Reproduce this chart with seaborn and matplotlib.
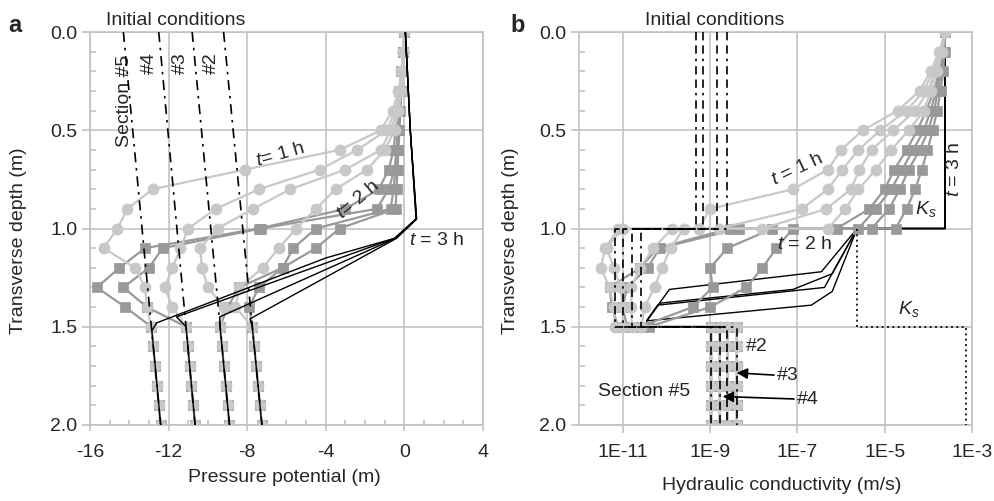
import numpy as np
import pandas as pd
import matplotlib
matplotlib.use("Agg")
import matplotlib.pyplot as plt
import seaborn as sns
from matplotlib.ticker import MultipleLocator, FixedLocator, NullLocator, FormatStrFormatter

sns.set_theme(style="white")
plt.rcParams['font.family'] = ['Liberation Sans', 'DejaVu Sans']
plt.rcParams['axes.unicode_minus'] = False
plt.rcParams['mathtext.fontset'] = 'custom'
plt.rcParams['mathtext.rm'] = 'Liberation Sans'
plt.rcParams['mathtext.it'] = 'Liberation Sans:italic'

# ============================================
# Data
# ============================================

sections = ["#2", "#3", "#4", "#5"]

# --- panel a: pressure potential (m) at depth nodes 0.0 .. 2.0 m
depth_a = [0.0, 0.1, 0.2, 0.3, 0.4, 0.5, 0.6, 0.7, 0.8, 0.9, 1.0,
           1.1, 1.2, 1.3, 1.4, 1.5, 1.6, 1.7, 1.8, 1.9, 2.0]

init_depth = [0.0, 2.0]
init_p_top = [-9.2, -10.8, -12.5, -14.3]
init_p_bot = [-7.25, -8.9, -10.65, -12.4]

# lower layer (1.5 .. 2.0 m), unchanged from initial state
p_low_s2 = [-7.74, -7.64, -7.54, -7.45, -7.35, -7.25]
p_low_s3 = [-9.38, -9.28, -9.19, -9.09, -9.00, -8.90]
p_low_s4 = [-11.11, -11.02, -10.93, -10.84, -10.74, -10.65]
p_low_s5 = [-12.88, -12.78, -12.69, -12.59, -12.50, -12.40]

# 0.0 .. 1.4 m
p_1h_s2 = [0.0, -0.05, -0.1, -0.15, -0.3, -0.5, -1.0, -1.9, -3.5, -4.5, -5.5, -6.4, -7.2, -8.4, -8.6]
p_1h_s3 = [0.0, -0.05, -0.1, -0.2, -0.35, -0.7, -1.2, -3.0, -5.8, -7.7, -9.5, -10.4, -10.3, -10.0, -9.2]
p_1h_s4 = [0.0, -0.05, -0.12, -0.25, -0.45, -0.9, -2.4, -4.3, -7.4, -9.6, -11.0, -11.4, -11.8, -12.2, -11.8]
p_1h_s5 = [0.0, -0.05, -0.15, -0.3, -0.6, -1.2, -3.3, -8.1, -12.8, -14.1, -14.6, -15.3, -13.7, -13.2, -13.1]

p_2h_s2 = [0.0, -0.05, -0.1, -0.15, -0.2, -0.25, -0.3, -0.35, -0.4, -0.45, -3.3, -4.5, -6.2, -7.4, -7.9]
p_2h_s3 = [0.0, -0.05, -0.1, -0.2, -0.25, -0.3, -0.35, -0.45, -0.55, -0.7, -4.5, -5.65, -6.2, -8.4, -9.0]
p_2h_s4 = [0.0, -0.05, -0.1, -0.2, -0.3, -0.35, -0.4, -0.5, -0.8, -1.4, -7.3, -12.3, -13.0, -14.3, -13.1]
p_2h_s5 = [0.0, -0.05, -0.15, -0.25, -0.35, -0.45, -0.55, -0.8, -1.3, -3.0, -7.4, -13.2, -14.5, -15.65, -14.2]

# t = 3 h (no markers)
d_3h_s2 = [0.0, 0.5, 0.955, 1.05, 1.46, 1.5, 2.0]
p_3h_s2 = [0.05, 0.3, 0.6, -0.4, -7.86, -7.74, -7.25]
d_3h_s3 = [0.0, 0.5, 0.95, 1.05, 1.45, 1.5, 2.0]
p_3h_s3 = [0.05, 0.3, 0.6, -0.45, -9.4, -9.38, -8.9]
d_3h_s4 = [0.0, 0.5, 0.95, 1.05, 1.45, 1.5, 2.0]
p_3h_s4 = [0.05, 0.3, 0.62, -0.5, -11.6, -11.11, -10.65]
d_3h_s5 = [0.0, 0.5, 0.95, 1.05, 1.15, 1.48, 1.52, 2.0]
p_3h_s5 = [0.05, 0.3, 0.62, -0.5, -4.0, -12.6, -12.85, -12.4]

# --- panel b: log10 hydraulic conductivity (m/s)
depth_b_up = [0.0, 0.1, 0.2, 0.3, 0.4, 0.5, 0.6, 0.7, 0.8, 0.9, 1.0]
depth_b_mid = [1.0, 1.1, 1.2, 1.3, 1.4, 1.5]
depth_b_low = [1.5, 1.6, 1.7, 1.8, 1.9, 2.0]

k0_up = [-8.62, -8.83, -9.15, -9.31]
k0_mid = [-10.57, -10.79, -11.0, -11.18]
k0_low = [-8.39, -8.6, -8.78, -8.97]

k_1h_up_s2 = [-3.62, -3.68, -3.8, -3.95, -4.1, -4.45, -4.85, -5.2, -5.6, -5.9, -6.3]
k_1h_up_s3 = [-3.62, -3.7, -3.85, -4.0, -4.3, -4.8, -5.3, -5.58, -5.77, -6.34, -7.8]
k_1h_up_s4 = [-3.62, -3.72, -3.9, -4.1, -4.5, -5.1, -5.6, -5.97, -6.3, -6.9, -8.8]
k_1h_up_s5 = [-3.62, -3.75, -3.95, -4.2, -4.7, -5.5, -6.0, -6.3, -7.1, -9.0, -9.25]
k_1h_mid_s2 = [-9.6, -9.9, -10.1, -10.27, -10.5, -10.57]
k_1h_mid_s3 = [-9.86, -10.3, -10.6, -10.8, -10.8, -10.79]
k_1h_mid_s4 = [-11.0, -11.37, -11.2, -11.05, -11.0, -11.0]
k_1h_mid_s5 = [-11.1, -11.4, -11.5, -11.3, -11.2, -11.18]

k_2h_up_s2 = [-3.62, -3.63, -3.66, -3.72, -3.8, -3.9, -4.02, -4.15, -4.3, -4.5, -4.75]
k_2h_up_s3 = [-3.62, -3.64, -3.7, -3.78, -3.87, -4.0, -4.2, -4.45, -4.65, -4.9, -5.3]
k_2h_up_s4 = [-3.62, -3.65, -3.72, -3.82, -3.95, -4.1, -4.35, -4.6, -4.85, -5.2, -5.6]
k_2h_up_s5 = [-3.62, -3.66, -3.75, -3.87, -4.05, -4.25, -4.5, -4.78, -5.0, -5.35, -6.1]
k_2h_mid_s2 = [-7.1, -7.48, -7.8, -8.17, -9.0, -10.4]
k_2h_mid_s3 = [-7.57, -8.6, -9.0, -8.94, -9.4, -10.6]
k_2h_mid_s4 = [-8.33, -10.15, -10.43, -10.9, -11.0, -10.9]
k_2h_mid_s5 = [-8.55, -10.2, -10.6, -11.3, -11.25, -11.1]

d_3h_b1 = [0.0, 1.0, 1.0, 1.22, 1.31, 1.47]
k_3h_b1 = [-3.62, -3.62, -5.63, -6.45, -9.93, -10.45]
d_3h_b2 = [0.0, 1.0, 1.0, 1.23, 1.31, 1.38, 1.47]
k_3h_b2 = [-3.62, -3.62, -5.63, -6.2, -7.1, -10.15, -10.45]
d_3h_b3 = [0.0, 1.0, 1.0, 1.30, 1.39, 1.47]
k_3h_b3 = [-3.62, -3.62, -5.63, -6.38, -10.2, -10.45]
d_3h_b4 = [0.0, 1.0, 1.0, 1.32, 1.39, 1.47]
k_3h_b4 = [-3.62, -3.62, -5.63, -6.2, -6.68, -10.45]

ks_depth = [1.0, 1.5, 1.5, 2.0]
ks_log = [-5.63, -5.63, -3.14, -3.14]

# ============================================
# Helpers
# ============================================

LIGHT = "#c8c8c8"
MID = "#999999"
GRID = "#c2c2c2"
FS = 14


def curves_table(value_lists, depth_lists, log=False):
    rows = []
    for sec, vals, deps in zip(sections, value_lists, depth_lists):
        for v, d in zip(vals, deps):
            rows.append({"section": sec, "value": 10.0 ** v if log else v, "depth": d})
    return pd.DataFrame(rows)


def draw_series(ax, tab, color, marker, lw, ms, z):
    kw = dict(data=tab, x="value", y="depth", units="section", estimator=None,
              sort=False, color=color, lw=lw, legend=False, ax=ax, zorder=z)
    if marker:
        kw.update(marker=marker, markersize=ms, markeredgecolor=color, markeredgewidth=0.5)
    sns.lineplot(**kw)


def style_axes(ax):
    ax.set_ylim(2.0, 0.0)
    ax.yaxis.set_major_locator(MultipleLocator(0.5))
    ax.yaxis.set_minor_locator(MultipleLocator(0.1))
    ax.yaxis.set_major_formatter(FormatStrFormatter('%.1f'))
    ax.grid(True, which='major', color=GRID, lw=1.2)
    ax.set_axisbelow(True)
    for s in ax.spines.values():
        s.set_color(GRID)
        s.set_linewidth(1.2)
    ax.tick_params(axis='y', which='major', direction='out', length=6, width=1.2,
                   color=GRID, labelsize=FS, pad=3, left=True)
    ax.tick_params(axis='y', which='minor', direction='in', length=4.5, width=1.2,
                   color=GRID, left=True)
    ax.set_ylabel("Transverse depth (m)", fontsize=FS)


fig = plt.figure(figsize=(9.94, 5.01), dpi=100)
ax_a = fig.add_axes([0.0905, 0.1517, 0.3954, 0.7844])
ax_b = fig.add_axes([0.5825, 0.1517, 0.3954, 0.7844])

# ============================================
# Panel a
# ============================================

tab_2h = curves_table([p_2h_s2 + p_low_s2, p_2h_s3 + p_low_s3, p_2h_s4 + p_low_s4, p_2h_s5 + p_low_s5],
                      [depth_a] * 4)
tab_1h = curves_table([p_1h_s2 + p_low_s2, p_1h_s3 + p_low_s3, p_1h_s4 + p_low_s4, p_1h_s5 + p_low_s5],
                      [depth_a] * 4)
tab_3h = curves_table([p_3h_s2, p_3h_s3, p_3h_s4, p_3h_s5], [d_3h_s2, d_3h_s3, d_3h_s4, d_3h_s5])

draw_series(ax_a, tab_2h, MID, "s", 1.6, 7.5, 2)
draw_series(ax_a, tab_1h, LIGHT, "o", 1.6, 8, 3)
draw_series(ax_a, tab_3h, "black", None, 1.0, 0, 4)

for top, bot in zip(init_p_top, init_p_bot):
    ax_a.plot([top, bot], init_depth, color="black", lw=1.2,
              linestyle=(0, (6, 3.5, 1.5, 3.5)), zorder=5)

style_axes(ax_a)
ax_a.set_xlim(-16, 4)
ax_a.xaxis.set_major_locator(FixedLocator([-16, -12, -8, -4, 0, 4]))
ax_a.xaxis.set_minor_locator(MultipleLocator(1))
ax_a.tick_params(axis='x', which='major', direction='out', length=4, width=1.2,
                 color=GRID, labelsize=FS, pad=10, bottom=True)
ax_a.tick_params(axis='x', which='minor', direction='in', length=3.5, width=1.2,
                 color=GRID, bottom=True)
ax_a.set_xlabel("Pressure potential (m)", fontsize=FS)
ax_a.xaxis.set_label_coords(0.495, -0.112)
ax_a.yaxis.set_label_coords(-0.160, 0.47)

ax_a.text(-14.25, 0.35, "Section #5", rotation=90, fontsize=FS, ha="center", va="center")
ax_a.text(-13.0, 0.16, "#4", rotation=90, fontsize=FS, ha="center", va="center")
ax_a.text(-11.4, 0.16, "#3", rotation=90, fontsize=FS, ha="center", va="center")
ax_a.text(-9.8, 0.16, "#2", rotation=90, fontsize=FS, ha="center", va="center")
ax_a.text(-6.3, 0.625, "$t$= 1 h", rotation=16, fontsize=FS, ha="center", va="center",
          rotation_mode="anchor")
ax_a.text(-2.35, 0.855, "$t$= 2 h", rotation=40, fontsize=FS, ha="center", va="center",
          rotation_mode="anchor")
ax_a.text(0.25, 1.06, "$t$ = 3 h", fontsize=FS, ha="left", va="center")
ax_a.text(0.219, 1.018, "Initial conditions", transform=ax_a.transAxes, fontsize=FS,
          ha="center", va="baseline")

# ============================================
# Panel b
# ============================================

ax_b.set_xscale("log")
low_b = [[k] * len(depth_b_low) for k in k0_low]
depth_b_full = depth_b_up + depth_b_mid + depth_b_low

tab_b2 = curves_table([k_2h_up_s2 + k_2h_mid_s2 + low_b[0], k_2h_up_s3 + k_2h_mid_s3 + low_b[1],
                       k_2h_up_s4 + k_2h_mid_s4 + low_b[2], k_2h_up_s5 + k_2h_mid_s5 + low_b[3]],
                      [depth_b_full] * 4, log=True)
tab_b1 = curves_table([k_1h_up_s2 + k_1h_mid_s2 + low_b[0], k_1h_up_s3 + k_1h_mid_s3 + low_b[1],
                       k_1h_up_s4 + k_1h_mid_s4 + low_b[2], k_1h_up_s5 + k_1h_mid_s5 + low_b[3]],
                      [depth_b_full] * 4, log=True)
tab_b3 = curves_table([k_3h_b1, k_3h_b2, k_3h_b3, k_3h_b4], [d_3h_b1, d_3h_b2, d_3h_b3, d_3h_b4],
                      log=True)

draw_series(ax_b, tab_b3, "black", None, 1.0, 0, 1.5)
draw_series(ax_b, tab_b2, MID, "s", 1.6, 7.5, 2)
draw_series(ax_b, tab_b1, LIGHT, "o", 1.6, 8, 3)

for ku, km, kl in zip(k0_up, k0_mid, k0_low):
    ax_b.plot(10.0 ** np.array([ku, ku, km, km, kl, kl]), [0.0, 1.0, 1.0, 1.5, 1.5, 2.0],
              color="black", lw=1.2, linestyle=(0, (5, 3, 5, 3, 1.5, 3)), zorder=5)

ax_b.plot(10.0 ** np.array(ks_log), ks_depth, color="black", lw=1.2, linestyle=(0, (1.2, 2)),
          zorder=5)

style_axes(ax_b)
ax_b.set_xlim(1e-12, 1e-3)
ax_b.xaxis.set_major_locator(FixedLocator([1e-11, 1e-9, 1e-7, 1e-5, 1e-3]))
ax_b.xaxis.set_minor_locator(NullLocator())
ax_b.set_xticklabels(["1E-11", "1E-9", "1E-7", "1E-5", "1E-3"])
ax_b.tick_params(axis='x', which='major', direction='out', length=6, width=1.2,
                 color=GRID, labelsize=FS, pad=8, bottom=True)
ax_b.set_xlabel("Hydraulic conductivity (m/s)", fontsize=FS)
ax_b.xaxis.set_label_coords(0.516, -0.132)
ax_b.yaxis.set_label_coords(-0.152, 0.47)

ax_b.text(10 ** -7.0, 0.70, "$t$ = 1 h", rotation=25, fontsize=FS, ha="center", va="center",
          rotation_mode="anchor")
ax_b.text(10 ** -7.46, 1.08, "$t$ = 2 h", fontsize=FS, ha="left", va="center")
ax_b.text(10 ** -3.41, 0.70, "$t$ = 3 h", rotation=90, fontsize=FS, ha="center", va="center")
ax_b.text(10 ** -4.05, 0.90, "$K_s$", fontsize=FS, ha="center", va="center")
ax_b.text(10 ** -4.44, 1.41, "$K_s$", fontsize=FS, ha="center", va="center")
ax_b.text(10 ** -8.17, 1.60, "#2", fontsize=FS, ha="left", va="center")
ax_b.annotate("#3", xy=(10 ** -8.39, 1.735), xytext=(10 ** -7.46, 1.75), fontsize=FS,
              ha="left", va="center",
              arrowprops=dict(arrowstyle="-|>", color="black", lw=1.2, mutation_scale=16,
                              shrinkA=0, shrinkB=0))
ax_b.annotate("#4", xy=(10 ** -8.71, 1.855), xytext=(10 ** -7.0, 1.87), fontsize=FS,
              ha="left", va="center",
              arrowprops=dict(arrowstyle="-|>", color="black", lw=1.2, mutation_scale=16,
                              shrinkA=0, shrinkB=0))
ax_b.text(10 ** -11.57, 1.83, "Section #5", fontsize=FS, ha="left", va="center")
ax_b.text(0.344, 1.018, "Initial conditions", transform=ax_b.transAxes, fontsize=FS,
          ha="center", va="baseline")

fig.text(8 / 994, 1 - 32 / 501, "a", fontsize=17, fontweight="bold", va="baseline")
fig.text(510 / 994, 1 - 32 / 501, "b", fontsize=17, fontweight="bold", va="baseline")

fig.savefig("out.png", dpi=100)
